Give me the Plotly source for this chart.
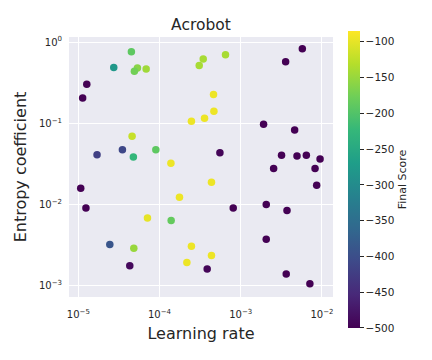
import plotly.graph_objects as go

# hyperparameter samples
learning_rate = [
    4.50e-5, 2.73e-5, 5.34e-5, 4.90e-5, 6.84e-5, 3.08e-4, 3.45e-4, 6.49e-4,
    1.27e-5, 1.13e-5, 2.47e-4, 4.59e-5, 1.70e-5, 3.49e-5, 9.00e-5, 4.76e-5,
    1.38e-4, 5.73e-3, 3.57e-3, 4.62e-4, 4.67e-4, 3.58e-4, 1.91e-3, 4.61e-3,
    5.54e-4, 3.18e-3, 4.93e-3, 6.42e-3, 9.48e-3, 2.54e-3, 8.22e-3, 1.07e-5,
    1.76e-4, 1.24e-5, 7.10e-5, 1.39e-4, 2.44e-5, 4.82e-5, 4.30e-5, 2.47e-4,
    2.17e-4, 8.61e-3, 4.36e-4, 8.08e-4, 2.06e-3, 3.71e-3, 2.06e-3, 4.36e-4,
    3.86e-4, 3.63e-3, 7.10e-3,
]
entropy_coef = [
    0.759, 0.486, 0.478, 0.438, 0.464, 0.514, 0.617, 0.697,
    0.303, 0.205, 0.106, 0.0691, 0.0410, 0.0472, 0.0472, 0.0384,
    0.0321, 0.827, 0.571, 0.2256, 0.1407, 0.1153, 0.0972, 0.0827,
    0.0434, 0.0403, 0.0395, 0.0403, 0.0362, 0.0277, 0.0277, 0.0158,
    0.0122, 0.0090, 0.00678, 0.00635, 0.00321, 0.00289, 0.00175, 0.00306,
    0.00192, 0.0172, 0.0187, 0.0090, 0.0100, 0.00843, 0.00373, 0.00235,
    0.00160, 0.00139, 0.00105,
]
final_score = [
    -190, -280, -160, -175, -145, -140, -140, -140,
    -500, -500, -95, -120, -420, -410, -190, -225,
    -95, -500, -500, -95, -95, -95, -500, -500,
    -495, -500, -500, -500, -500, -500, -500, -500,
    -95, -500, -100, -185, -390, -150, -490, -95,
    -95, -500, -95, -500, -500, -500, -500, -95,
    -495, -500, -500,
]

cbar_ticks = [-100, -150, -200, -250, -300, -350, -400, -450, -500]

text_color = '#262626'
font_family = 'DejaVu Sans'

# page body keeps its default 8px margin, so the figure is shifted by 8px;
# margins below are set so the plot area lands where the reference has it
fig = go.Figure(go.Scatter(
    x=learning_rate, y=entropy_coef, mode='markers',
    marker=dict(
        size=7.5, color=final_score, colorscale='Viridis',
        cmin=-500, cmax=-85, line=dict(width=0),
        colorbar=dict(
            x=1.058, xanchor='left', y=0.452, yanchor='middle',
            thickness=12, len=297, lenmode='pixels', ypad=0, xpad=0,
            outlinewidth=0, tickvals=cbar_ticks,
            ticks='outside', ticklen=4, tickcolor=text_color,
            tickfont=dict(size=10.5, color=text_color, family=font_family),
            title=dict(text='Final Score', side='right',
                       font=dict(size=11, color=text_color, family=font_family)),
        ),
    ),
    showlegend=False,
))

decade_vals = [1e-5, 1e-4, 1e-3, 1e-2]
decade_text = ['10<sup>\u22125</sup>', '10<sup>\u22124</sup>',
               '10<sup>\u22123</sup>', '10<sup>\u22122</sup>']
y_vals = [1e-3, 1e-2, 1e-1, 1]
y_text = ['10<sup>\u22123</sup>', '10<sup>\u22122</sup>',
          '10<sup>\u22121</sup>', '10<sup>0</sup>']

fig.update_layout(
    width=432, height=360,
    margin=dict(l=61, r=107, t=29, b=71),
    paper_bgcolor='white', plot_bgcolor='#EAEAF2',
    font=dict(family=font_family, color=text_color),
    title=dict(text='Acrobot', xref='paper', x=0.5, xanchor='center',
               y=0.953, yanchor='middle',
               font=dict(size=15.5, color=text_color)),
    xaxis=dict(
        type='log', range=[-5.115, -1.864], automargin=False,
        tickvals=decade_vals, ticktext=decade_text, ticklabelstandoff=10,
        gridcolor='white', gridwidth=1, zeroline=False, showline=False,
        tickfont=dict(size=10),
        title=dict(text='Learning rate', font=dict(size=16), standoff=8),
    ),
    yaxis=dict(
        type='log', range=[-3.141, 0.062], automargin=False,
        tickvals=y_vals, ticktext=y_text, ticklabelstandoff=6,
        gridcolor='white', gridwidth=1, zeroline=False, showline=False,
        tickfont=dict(size=10),
        title=dict(text='Entropy coefficient', font=dict(size=16), standoff=8),
    ),
)

fig.write_html("out.html")
